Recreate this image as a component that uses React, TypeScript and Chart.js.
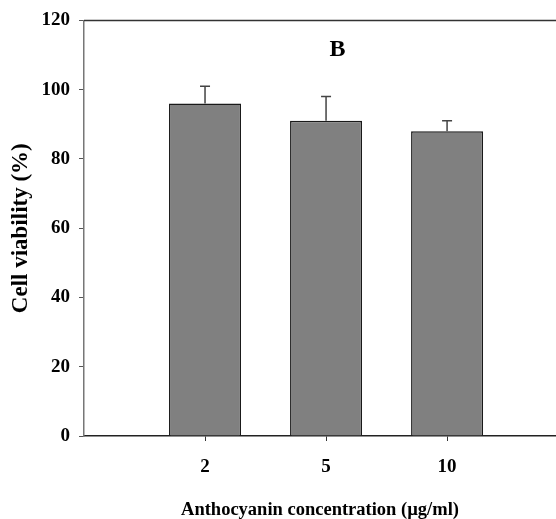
import React, { useEffect, useRef } from "react";
import { Chart, registerables } from "chart.js";

Chart.register(...registerables);

const categories = ["2", "5", "10"];
const viability = [96, 91, 88];
const errors = [5, 7, 3];
const yTicks = [0, 20, 40, 60, 80, 100, 120];
const panelLabel = "B";

const FONT = "'Liberation Serif', 'Times New Roman', serif";

export default function App() {
  const ref = useRef<HTMLCanvasElement | null>(null);

  useEffect(() => {
    if (!ref.current) return;

    const errorBars = {
      id: "errorBars",
      afterDatasetsDraw(chart: any) {
        const meta = chart.getDatasetMeta(0);
        const y = chart.scales.y;
        const ctx = chart.ctx;
        ctx.save();
        ctx.strokeStyle = "#444";
        ctx.lineWidth = 1.5;
        meta.data.forEach((bar: any, i: number) => {
          const top = y.getPixelForValue(viability[i] + errors[i]);
          const base = y.getPixelForValue(viability[i]);
          ctx.beginPath();
          ctx.moveTo(bar.x, base);
          ctx.lineTo(bar.x, top);
          ctx.moveTo(bar.x - 5, top);
          ctx.lineTo(bar.x + 5, top);
          ctx.stroke();
        });
        ctx.restore();
      },
    };

    const frameAndLabel = {
      id: "frameAndLabel",
      afterDraw(chart: any) {
        const { ctx, chartArea, scales } = chart;
        ctx.save();
        ctx.strokeStyle = "#333";
        ctx.lineWidth = 1.5;
        ctx.beginPath();
        ctx.moveTo(chartArea.left, chartArea.top);
        ctx.lineTo(chartArea.right, chartArea.top);
        ctx.stroke();
        ctx.fillStyle = "#000";
        ctx.font = `bold 24px ${FONT}`;
        ctx.textAlign = "center";
        ctx.textBaseline = "middle";
        ctx.fillText(panelLabel, scales.x.getPixelForValue(2.095), scales.y.getPixelForValue(111.5));
        ctx.restore();
      },
    };

    const chart = new Chart(ref.current, {
      type: "bar",
      data: {
        datasets: [
          {
            data: viability.map((v, i) => ({ x: i + 1, y: v })),
            backgroundColor: "#808080",
            borderColor: "#1a1a1a",
            borderWidth: 1.5,
            categoryPercentage: 1,
            barPercentage: 0.595,
          },
        ],
      },
      options: {
        responsive: false,
        animation: false,
        layout: { padding: { top: 20, right: 0, left: 0, bottom: 0 } },
        plugins: { legend: { display: false }, tooltip: { enabled: false } },
        scales: {
          x: {
            type: "linear",
            min: 0,
            max: 3.9,
            offset: false,
            afterBuildTicks(scale: any) {
              scale.ticks = categories.map((_, i) => ({ value: i + 1 }));
            },
            afterFit(scale: any) {
              scale.height = 83;
            },
            ticks: {
              autoSkip: false,
              maxRotation: 0,
              padding: 15,
              color: "#000",
              font: { family: FONT, size: 19, weight: "bold" },
              callback: (v: any) => categories[Number(v) - 1] ?? "",
            },
            grid: { display: true, offset: false, drawOnChartArea: false, drawTicks: true, tickLength: 5, color: "#333" },
            border: { display: true, color: "#222", width: 1.5 },
            title: {
              display: true,
              text: "Anthocyanin concentration (µg/ml)",
              color: "#000",
              font: { family: FONT, size: 18.5, weight: "bold", lineHeight: 1 },
              padding: { top: 0, bottom: 0 },
            },
          },
          y: {
            min: 0,
            max: 120,
            afterBuildTicks(scale: any) {
              scale.ticks = yTicks.map((v) => ({ value: v }));
            },
            afterFit(scale: any) {
              scale.width = 84;
            },
            ticks: {
              padding: 9,
              color: "#000",
              font: { family: FONT, size: 19, weight: "bold" },
            },
            grid: { display: true, drawOnChartArea: false, drawTicks: true, tickLength: 5, color: "#555" },
            border: { display: true, color: "#777", width: 1.5 },
            title: {
              display: true,
              text: "Cell viability (%)",
              color: "#000",
              font: { family: FONT, size: 23, weight: "bold", lineHeight: 1 },
              padding: { top: 9.5, bottom: 0 },
            },
          },
        },
      },
      plugins: [errorBars, frameAndLabel],
    });

    return () => chart.destroy();
  }, []);

  return (
    <div style={{ position: "absolute", left: 0, top: 0, width: 556, height: 519, background: "#fff" }}>
      <canvas ref={ref} width={556} height={519} />
    </div>
  );
}
